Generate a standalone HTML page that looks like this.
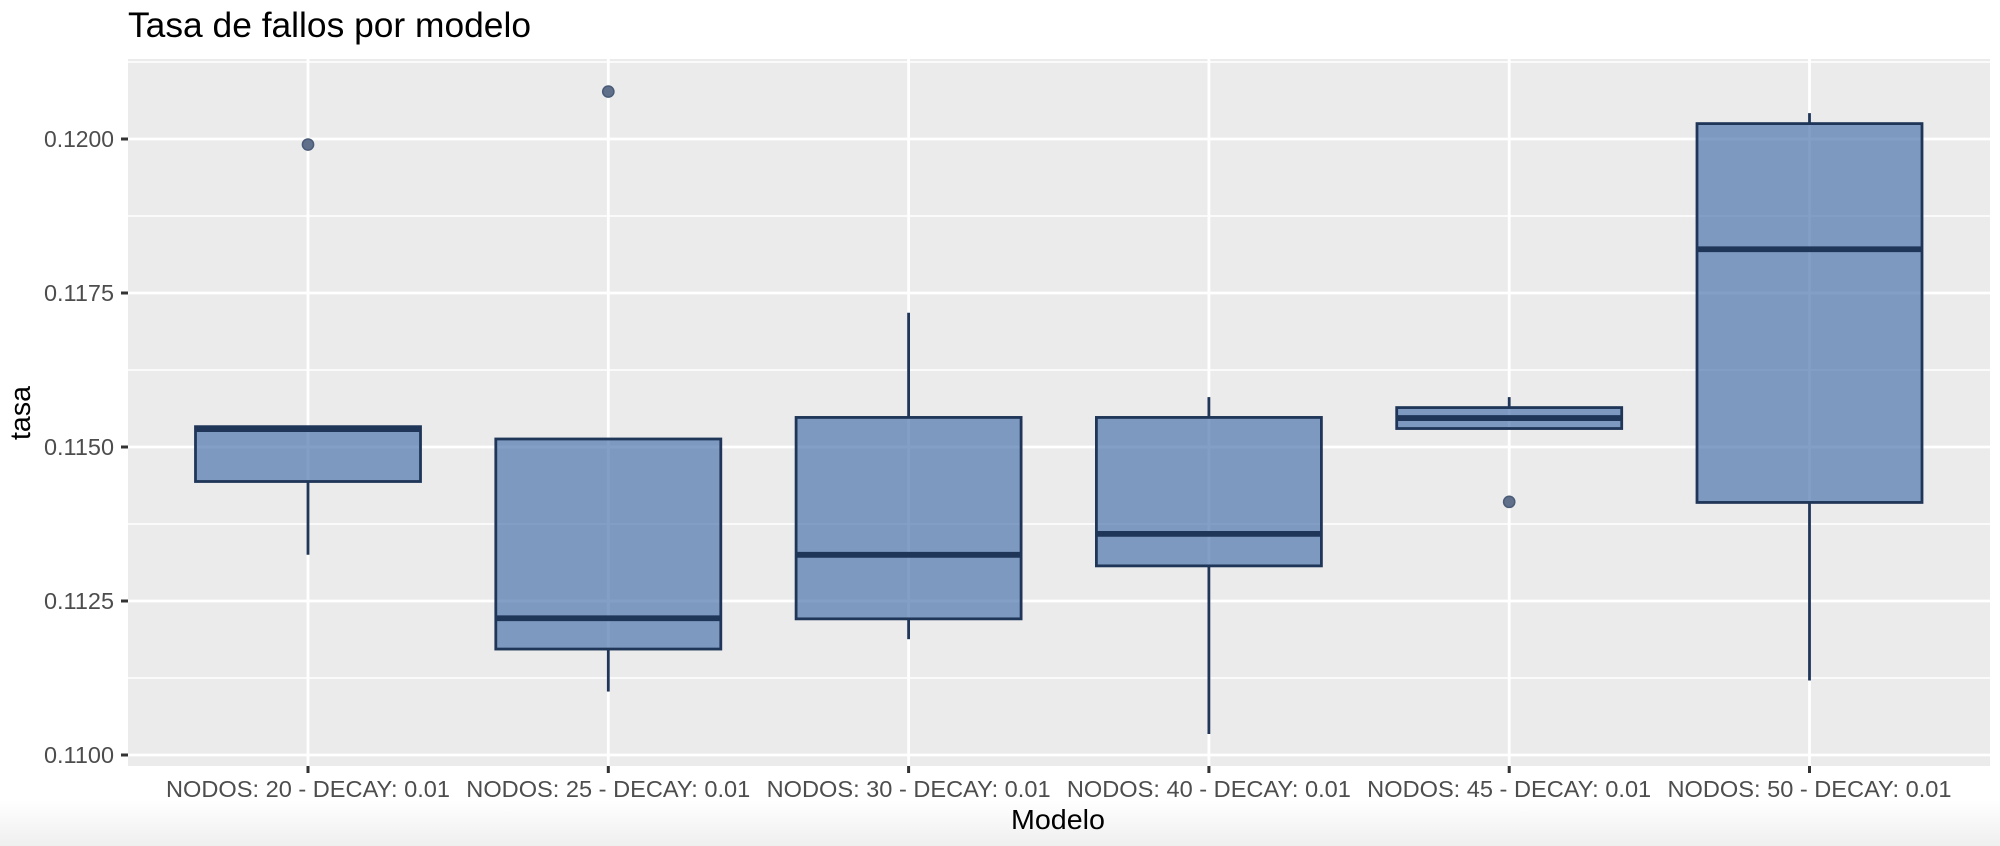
<!DOCTYPE html>
<html lang="es">
<head>
<meta charset="utf-8">
<title>Tasa de fallos por modelo</title>
<style>
html,body{margin:0;padding:0;background:#fff;width:2000px;height:846px;overflow:hidden}
svg{display:block;font-family:"Liberation Sans",sans-serif}
</style>
</head>
<body>
<svg id="chart" width="2000" height="846" viewBox="0 0 2000 846" xmlns="http://www.w3.org/2000/svg">
<defs>
<linearGradient id="fade" x1="0" y1="0" x2="0" y2="1">
<stop offset="0" stop-color="#ffffff"/>
<stop offset="1" stop-color="#efefef"/>
</linearGradient>
</defs>
<rect x="0" y="800" width="2000" height="46" fill="url(#fade)"/>
<rect x="128" y="59" width="1862" height="707" fill="#ebebeb"/>
<g id="grid"></g>
<g id="marks"></g>
<g id="axes"></g>
<text x="128" y="37" font-size="35" fill="#000" textLength="403" lengthAdjust="spacingAndGlyphs">Tasa de fallos por modelo</text>
<text x="1058" y="829" font-size="28" fill="#000" text-anchor="middle" textLength="94" lengthAdjust="spacingAndGlyphs">Modelo</text>
<text transform="translate(30,413) rotate(-90)" font-size="29" fill="#000" text-anchor="middle" textLength="54" lengthAdjust="spacingAndGlyphs">tasa</text>
</svg>
<script>
const categories = ["NODOS: 20 - DECAY: 0.01","NODOS: 25 - DECAY: 0.01","NODOS: 30 - DECAY: 0.01","NODOS: 40 - DECAY: 0.01","NODOS: 45 - DECAY: 0.01","NODOS: 50 - DECAY: 0.01"];
const lowerWhisker = [0.11325,0.11103,0.11188,0.11034,0.11530,0.11121];
const q1Values = [0.11444,0.11172,0.11221,0.11307,0.11530,0.11410];
const medianValues = [0.11529,0.11222,0.11325,0.11359,0.11547,0.11821];
const q3Values = [0.11533,0.11513,0.11548,0.11548,0.11564,0.12025];
const upperWhisker = [0.11533,0.11513,0.11718,0.11581,0.11581,0.12042];
const outlierValues = [[0.11991],[0.12077],[],[],[0.11411],[]];
const yTickValues = [0.11,0.1125,0.115,0.1175,0.12];
const yTickLabels = ["0.1100","0.1125","0.1150","0.1175","0.1200"];
const yMinorValues = [0.11125,0.11375,0.11625,0.11875,0.12125];

const NS = "http://www.w3.org/2000/svg";
const panel = {left:128,right:1990,top:59,bottom:766};
const xScale = i => 308 + i * 300.3;
const yScale = v => 755 - (v - 0.11) * 61600;
const BOX_W = 225;
const DARK = "#1f3658";

function mk(tag, parent, attrs){
  const el = document.createElementNS(NS, tag);
  for (const k in attrs) el.setAttribute(k, attrs[k]);
  parent.appendChild(el);
  return el;
}
const grid = document.getElementById("grid");
const marks = document.getElementById("marks");
const axes = document.getElementById("axes");

yMinorValues.forEach(v => {
  const y = yScale(v);
  if (y < panel.top) return;
  const el = mk("line", grid, {x1:panel.left,x2:panel.right,y1:y,y2:y,stroke:"#fff","stroke-width":1.4});
  
  
});
yTickValues.forEach((v, i) => {
  const y = yScale(v);
  const g = mk("line", grid, {x1:panel.left,x2:panel.right,y1:y,y2:y,stroke:"#fff","stroke-width":2.8});
  
  
  const t = mk("line", axes, {x1:121,x2:128,y1:y,y2:y,stroke:"#333","stroke-width":3});
  
  
  const l = mk("text", axes, {x:114,y:y+8,"font-size":23,fill:"#4d4d4d","text-anchor":"end",textLength:70,lengthAdjust:"spacingAndGlyphs"});
  l.textContent = yTickLabels[i];
  
  
});
categories.forEach((c, i) => {
  const x = xScale(i);
  const g = mk("line", grid, {x1:x,x2:x,y1:panel.top,y2:panel.bottom,stroke:"#fff","stroke-width":2.8});
  
  
  const t = mk("line", axes, {x1:x,x2:x,y1:panel.bottom,y2:773,stroke:"#333","stroke-width":3});
  
  
  const l = mk("text", axes, {x:x,y:797,"font-size":23,fill:"#4d4d4d","text-anchor":"middle",textLength:284,lengthAdjust:"spacingAndGlyphs"});
  l.textContent = c;
  
  

  const w1 = mk("line", marks, {x1:x,x2:x,y1:yScale(q3Values[i]),y2:yScale(upperWhisker[i]),stroke:DARK,"stroke-width":2.8});
  
  
  const w2 = mk("line", marks, {x1:x,x2:x,y1:yScale(q1Values[i]),y2:yScale(lowerWhisker[i]),stroke:DARK,"stroke-width":2.8});
  
  
  const yTop = yScale(q3Values[i]);
  const yBot = yScale(q1Values[i]);
  const b = mk("rect", marks, {x:x-BOX_W/2,y:yTop,width:BOX_W,height:yBot-yTop,fill:"rgb(78,118,174)","fill-opacity":0.7,stroke:DARK,"stroke-width":2.8});
  
  
  const m = mk("line", marks, {x1:x-BOX_W/2,x2:x+BOX_W/2,y1:yScale(medianValues[i]),y2:yScale(medianValues[i]),stroke:DARK,"stroke-width":5.8});
  
  
  outlierValues[i].forEach(v => {
    const o = mk("circle", marks, {cx:x,cy:yScale(v),r:5.6,fill:"#606f8a",stroke:"#4a5b78","stroke-width":1.5});
    
    
  });
});
</script>
</body>
</html>
